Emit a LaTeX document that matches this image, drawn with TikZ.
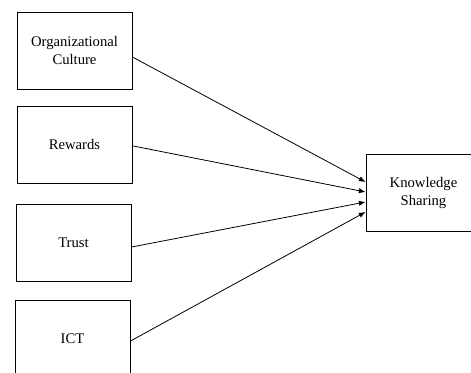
\documentclass[tikz,border=0pt]{standalone}
\usepackage{fontspec}
\setmainfont{Liberation Serif}
\usetikzlibrary{arrows.meta}
\begin{document}
\begin{tikzpicture}[x=0.75pt,y=-0.75pt,
  factor/.style={draw,line width=0.7pt,minimum width=86.25pt,minimum height=57.75pt,
    align=center,inner sep=0pt,font=\fontsize{11}{14}\selectfont},
  link/.style={line width=0.6pt,-{Latex[length=5pt,width=4pt]}}]
\clip (0,0) rectangle (471,373);
\node[factor] (org) at (74.5, 50.5) {Organizational\\Culture};
\node[factor] (rew) at (74.5, 144.5) {Rewards};
\node[factor] (trust) at (73.5, 242.5) {Trust};
\node[factor] (ict) at (72.5, 338.5) {ICT};
\node[factor] (ks) at (423.5, 193) {Knowledge\\Sharing};
\draw[link] ([yshift=-4.9pt]org.east) -- ([yshift=8.25pt]ks.west);
\draw[link] ([yshift=-1pt]rew.east) -- ([yshift=0.75pt]ks.west);
\draw[link] ([yshift=-3.4pt]trust.east) -- ([yshift=-6.75pt]ks.west);
\draw[link] ([yshift=-1.9pt]ict.east) -- ([yshift=-14.25pt]ks.west);
\end{tikzpicture}
\end{document}
